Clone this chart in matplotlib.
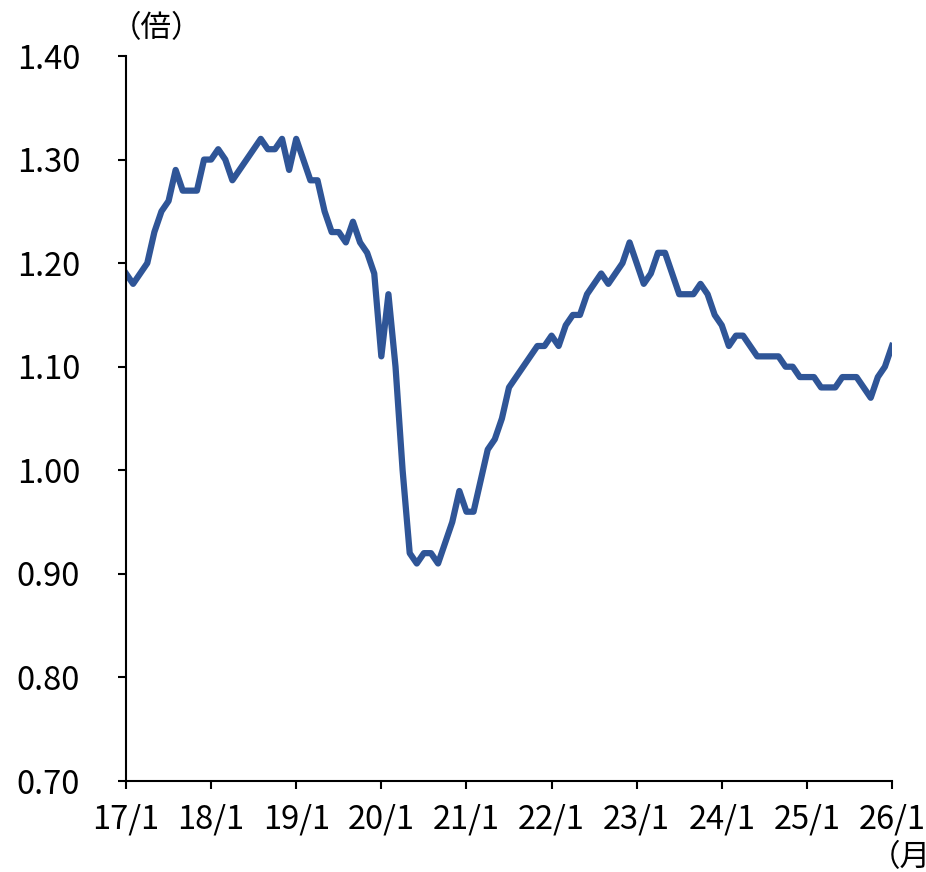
import numpy as np
import pandas as pd
import matplotlib
matplotlib.use("Agg")
import matplotlib.pyplot as plt

plt.rcParams['font.family'] = ['Noto Sans CJK JP', 'DejaVu Sans']

# monthly values, 2017/1 - 2026/1
y2017 = [1.19, 1.18, 1.19, 1.20, 1.23, 1.25, 1.26, 1.29, 1.27, 1.27, 1.27, 1.30]
y2018 = [1.30, 1.31, 1.30, 1.28, 1.29, 1.30, 1.31, 1.32, 1.31, 1.31, 1.32, 1.29]
y2019 = [1.32, 1.30, 1.28, 1.28, 1.25, 1.23, 1.23, 1.22, 1.24, 1.22, 1.21, 1.19]
y2020 = [1.11, 1.17, 1.10, 1.00, 0.92, 0.91, 0.92, 0.92, 0.91, 0.93, 0.95, 0.98]
y2021 = [0.96, 0.96, 0.99, 1.02, 1.03, 1.05, 1.08, 1.09, 1.10, 1.11, 1.12, 1.12]
y2022 = [1.13, 1.12, 1.14, 1.15, 1.15, 1.17, 1.18, 1.19, 1.18, 1.19, 1.20, 1.22]
y2023 = [1.20, 1.18, 1.19, 1.21, 1.21, 1.19, 1.17, 1.17, 1.17, 1.18, 1.17, 1.15]
y2024 = [1.14, 1.12, 1.13, 1.13, 1.12, 1.11, 1.11, 1.11, 1.11, 1.10, 1.10, 1.09]
y2025 = [1.09, 1.09, 1.08, 1.08, 1.08, 1.09, 1.09, 1.09, 1.08, 1.07, 1.09, 1.10]
y2026 = [1.12]

values = y2017 + y2018 + y2019 + y2020 + y2021 + y2022 + y2023 + y2024 + y2025 + y2026
months = pd.date_range("2017-01-01", periods=len(values), freq="MS")

tick_years = list(range(2017, 2027))
tick_labels = [f"{y % 100}/1" for y in tick_years]
y_ticks = [0.70, 0.80, 0.90, 1.00, 1.10, 1.20, 1.30, 1.40]

fig = plt.figure(figsize=(9.26, 8.72), dpi=100)
ax = fig.add_axes([126 / 926, 1 - 781 / 872, (892 - 126) / 926, (781 - 56) / 872])

x = np.arange(len(values))
ax.plot(x, values, color="#2F5597", linewidth=4.5)

ax.set_xlim(0, len(values) - 1)
ax.set_ylim(0.70, 1.40)

ax.set_xticks([(y - 2017) * 12 for y in tick_years])
ax.set_xticklabels(tick_labels)
ax.set_yticks(y_ticks)
ax.set_yticklabels([f"{v:.2f}" for v in y_ticks])

for s in ["top", "right"]:
    ax.spines[s].set_visible(False)
for s in ["left", "bottom"]:
    ax.spines[s].set_linewidth(1.5)

ax.tick_params(axis="both", direction="out", length=6, width=1.5, labelsize=23.5, colors="black")
ax.tick_params(axis="y", pad=27)
ax.tick_params(axis="x", pad=10)

fig.text(157 / 926, 1 - 29 / 872, "（倍）", fontsize=22, ha="center", va="center")
fig.text(870 / 926, 1 - 858 / 872, "（月）", fontsize=22, ha="left", va="center")

fig.savefig("out.png", dpi=100)
